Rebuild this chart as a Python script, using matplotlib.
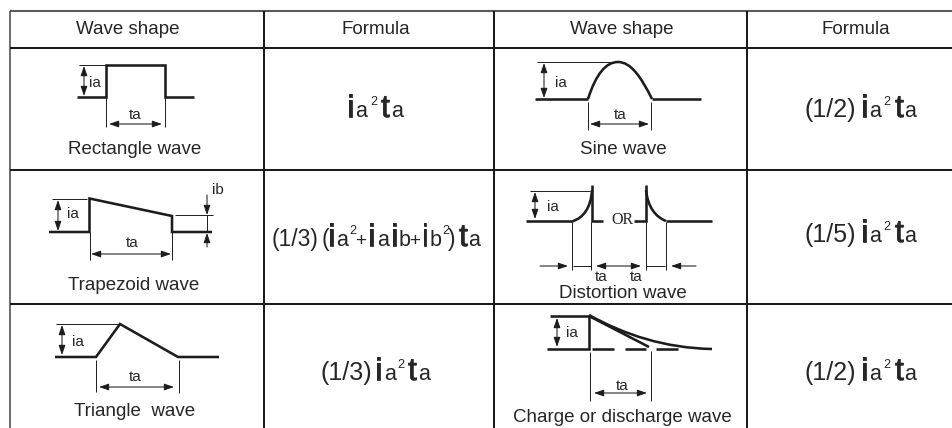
import matplotlib
matplotlib.use("Agg")
import matplotlib.pyplot as plt
import matplotlib.patheffects as pe
from matplotlib.path import Path
from matplotlib.patches import PathPatch

plt.rcParams['font.family'] = ['Liberation Sans', 'DejaVu Sans']

W, H = 952, 428
INK = '#1c1c1c'
TXT = '#262626'

# ---- table structure (pixel coordinate scale)
col_lines = [264, 494, 747]
row_lines = [47.5, 169.5, 304.3]
headers = ['Wave shape', 'Formula', 'Wave shape', 'Formula']
header_x = [128, 376, 622, 856]
names = ['Rectangle wave', 'Sine wave', 'Trapezoid wave', 'Distortion wave',
         'Triangle  wave', 'Charge or discharge wave']
name_pos = [(135, 150), (623, 150), (134, 285), (623, 293), (135, 412), (622, 417)]

# ---- wave outlines
rect_wave = [(77, 97), (106, 97), (106, 65), (165, 65), (165, 97), (194, 97)]
trap_wave = [(49, 232), (89.5, 232), (89.5, 198.5), (172, 216), (172, 232), (212, 232)]
tri_wave = [(55, 357), (96, 357), (120, 324), (178, 357), (219, 357)]
sine_left = [(535, 99), (588, 99)]
sine_right = [(652, 99), (701, 99)]
sine_arc = [(588, 99), (596, 74), (606, 62), (618, 62), (631, 62), (641, 77), (652, 99)]
dist_left = [(526, 221), (573, 221)]
dist_arc_l = [(573, 221), (583, 218), (591, 208), (592, 190)]
dist_stem_l = [(592, 185), (592, 221), (603, 221)]
dist_stem_r = [(634, 221), (646, 221), (646, 185)]
dist_arc_r = [(646, 190), (648, 208), (656, 217), (666, 221)]
dist_right = [(666, 221), (712, 221)]
charge_box = [(550, 316), (589, 316), (589, 349), (547, 349)]
charge_line = [(589, 316), (649, 347)]
charge_arc = [(589, 315), (625, 335), (665, 348), (712, 349)]
charge_dashes = [[(592, 349), (614, 349)], [(625, 349), (646, 349)], [(656, 349), (678, 349)]]

# ---- thin guide lines
guides = [
    [(79, 65), (106, 65)], [(106, 97), (106, 127)], [(164.5, 97), (164.5, 127)],
    [(537, 62), (612, 62)], [(587.5, 102), (587.5, 130)], [(651, 102), (651, 130)],
    [(52, 199), (87, 199)], [(175, 215), (213, 215)], [(207, 215), (207, 232)],
    [(89.5, 232), (89.5, 260)], [(172, 232), (172, 260)],
    [(56, 324), (118, 324)], [(95.5, 360), (95.5, 392)], [(178.5, 360), (178.5, 393)],
    [(530, 191), (590, 191)], [(572, 222), (572, 270)], [(591, 222), (591, 270)],
    [(645.5, 222), (645.5, 270)], [(665.5, 222), (665.5, 270)],
    [(573, 266), (591, 266)], [(646, 266), (665, 266)],
    [(589.5, 352), (589.5, 401)], [(651, 351), (651, 401)],
]

# ---- dimension arrows: (start, end, style)
arrows = [
    ((84, 66), (84, 96), '<|-|>'), ((109, 124), (162, 124), '<|-|>'),
    ((544, 63), (544, 98), '<|-|>'), ((590, 124), (649, 124), '<|-|>'),
    ((58, 200), (58, 231), '<|-|>'), ((91, 254), (171, 254), '<|-|>'),
    ((207, 195), (207, 215), '-|>'), ((207, 247), (207, 233), '-|>'),
    ((62, 325), (62, 355), '<|-|>'), ((99, 387), (174, 387), '<|-|>'),
    ((535, 192), (535, 219), '<|-|>'), ((540, 266), (568, 266), '-|>'),
    ((596, 266), (641, 266), '<|-|>'), ((696, 266), (671, 266), '-|>'),
    ((557, 318), (557, 347), '<|-|>'), ((594, 393), (647, 393), '<|-|>'),
]

# ---- small annotation labels
small_labels = [
    ('ia', 95, 83), ('ta', 135, 115), ('ia', 561, 83), ('ta', 620, 115),
    ('ia', 73, 214), ('ib', 218, 190), ('ta', 132, 243), ('ia', 78, 342),
    ('ta', 135, 377), ('ia', 553, 207), ('ta', 601, 277), ('ta', 636, 277),
    ('ia', 572, 333), ('ta', 622, 386),
]

# ---- formula runs: (text, size class, left x); one list per formula with its baseline
SIZES = {'big': 23, 'mid': 15.5, 'plus': 13.5, 'par': 18, 'par2': 16.5, 'sup': 9}
formula_ia2ta = [('i', 'big', 347), ('a', 'mid', 355), ('2', 'sup', 370.5), ('t', 'big', 381), ('a', 'mid', 391.5)]
formula_half = [('(1/2)', 'par', 805), ('i', 'big', 861), ('a', 'mid', 869), ('2', 'sup', 883.5), ('t', 'big', 895), ('a', 'mid', 904.5)]
formula_fifth = [('(1/5)', 'par', 805), ('i', 'big', 861), ('a', 'mid', 869), ('2', 'sup', 883.5), ('t', 'big', 895), ('a', 'mid', 904.5)]
formula_third = [('(1/3)', 'par', 320), ('i', 'big', 375), ('a', 'mid', 384), ('2', 'sup', 397.5), ('t', 'big', 408), ('a', 'mid', 418.5)]
formula_trap = [('(1/3)', 'par2', 272), ('(', 'par2', 321.5), ('i', 'big', 328), ('a', 'mid', 336), ('2', 'sup', 349.5),
                ('+', 'plus', 355.5), ('i', 'big', 368), ('a', 'mid', 377), ('i', 'big', 391), ('b', 'mid', 399),
                ('+', 'plus', 409.5), ('i', 'big', 421.5), ('b', 'mid', 430), ('2', 'sup', 442.5), (')', 'par2', 448),
                ('t', 'big', 459), ('a', 'mid', 468)]
formulas = [(formula_ia2ta, 117), (formula_half, 117), (formula_trap, 246),
            (formula_fifth, 242), (formula_third, 380), (formula_half, 380)]

fig = plt.figure(figsize=(W / 100, H / 100), dpi=100, facecolor='white')
ax = fig.add_axes([0, 0, 1, 1])
ax.set_xlim(0, W)
ax.set_ylim(H, 0)
ax.axis('off')

# table grid
ax.plot([10, W], [11, 11], color='#5a5a5a', lw=1.5, solid_capstyle='butt')
ax.plot([10, 10], [11, H], color='#444444', lw=1.1, solid_capstyle='butt')
for x in col_lines:
    ax.plot([x, x], [11, H], color=INK, lw=1.45, solid_capstyle='butt')
for y in row_lines:
    ax.plot([10, W], [y, y], color=INK, lw=1.45, solid_capstyle='butt')


def poly(pts, lw=1.85):
    xs, ys = zip(*pts)
    ax.plot(xs, ys, color=INK, lw=lw, solid_joinstyle='miter', solid_capstyle='butt')


def bez(pts, lw=1.85):
    codes = [Path.MOVETO] + [Path.CURVE4] * (len(pts) - 1)
    ax.add_patch(PathPatch(Path(pts, codes), fc='none', ec=INK, lw=lw, capstyle='butt'))


for w in (rect_wave, trap_wave, tri_wave, sine_left, sine_right, dist_left, dist_stem_l,
          dist_stem_r, dist_right, charge_box, charge_line, *charge_dashes):
    poly(w)
for c in (sine_arc, dist_arc_l, dist_arc_r, charge_arc):
    bez(c)
for g in guides:
    poly(g, lw=0.7)
for a, b, st in arrows:
    ax.annotate('', xy=b, xytext=a,
                arrowprops=dict(arrowstyle=f'{st},head_length=0.58,head_width=0.2',
                                mutation_scale=10, lw=0.75, color=INK,
                                shrinkA=0, shrinkB=0))

# text
for t, x in zip(headers, header_x):
    ax.text(x, 29, t, ha='center', va='center', fontsize=13.5, color=TXT)
for t, (x, y) in zip(names, name_pos):
    ax.text(x, y, t, ha='center', va='center', fontsize=13.5, color=TXT)
for t, x, y in small_labels:
    ax.text(x, y, t, ha='center', va='center', fontsize=11, color=TXT)
ax.text(622, 220, 'OR', ha='center', va='center', fontsize=11.5, color=TXT, family='Liberation Serif')

heavy = [pe.withStroke(linewidth=0.55, foreground=TXT)]
for runs, base in formulas:
    for s, size, x in runs:
        y = base - 12 if size == 'sup' else base
        tx = ax.text(x, y, s, ha='left', va='baseline', fontsize=SIZES[size], color=TXT)
        if size == 'big':
            tx.set_path_effects(heavy)

fig.savefig('out.png', dpi=100, facecolor='white')
